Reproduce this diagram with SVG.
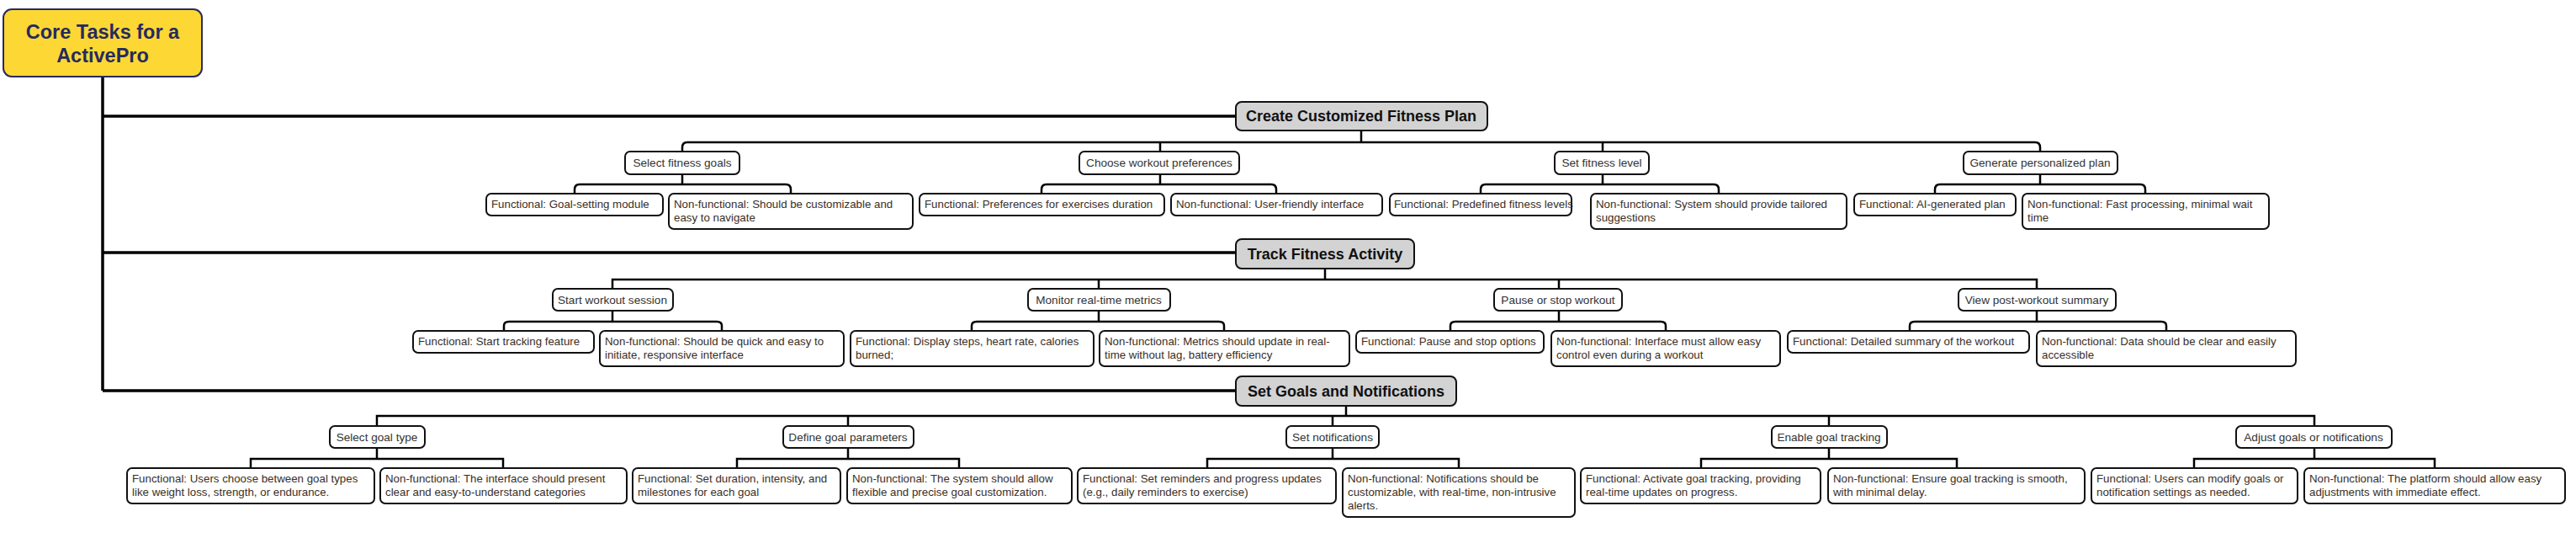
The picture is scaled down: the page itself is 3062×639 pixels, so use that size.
<svg xmlns="http://www.w3.org/2000/svg" width="3062" height="639" viewBox="0 0 3062 639">
<style>
.bg{fill:#ffffff}
.root{fill:#fdd835;stroke:#262a5f;stroke-width:2}
.roott{font-family:"Liberation Sans",Arial,sans-serif;font-weight:bold;font-size:23.5px;fill:#262a5f;text-anchor:middle}
.sec{fill:#d3d3d3;stroke:#111;stroke-width:2}
.sect{font-family:"Liberation Sans",Arial,sans-serif;font-weight:bold;font-size:18px;fill:#111;text-anchor:middle}
.box{fill:#ffffff;stroke:#111;stroke-width:2}
.t2{font-family:"Liberation Sans",Arial,sans-serif;font-size:13.6px;fill:#333;text-anchor:middle}
.t3{font-family:"Liberation Sans",Arial,sans-serif;font-size:13.3px;fill:#3a2e26}
.trunk{fill:none;stroke:#000;stroke-width:3.5}
.bus{fill:none;stroke:#000;stroke-width:2.5}
</style>
<rect class="bg" x="0" y="0" width="3062" height="639"/>

<g id="connectors">
  <path class="trunk" d="M122 91 V464 M122 138 H1469 M122 300 H1469 M122 464 H1469"/>
  <path class="bus" d="M1618 155 V169 M811 180 V175 Q811 169 817 169 H2419 Q2425 169 2425 175 V180 M1379 169 V180 M1905 169 V180"/>
  <path class="bus" d="M811 207 V219 M683 230 V225 Q683 219 689 219 H934 Q940 219 940 225 V230"/>
  <path class="bus" d="M1379 207 V219 M1238 230 V225 Q1238 219 1244 219 H1511 Q1517 219 1517 225 V230"/>
  <path class="bus" d="M1905 207 V219 M1760 230 V225 Q1760 219 1766 219 H2037 Q2043 219 2043 225 V230"/>
  <path class="bus" d="M2425 207 V219 M2300 230 V225 Q2300 219 2306 219 H2544 Q2550 219 2550 225 V230"/>
  <path class="bus" d="M1575 319 V332 M728 343 V332 H2421 V343 M1306 332 V343 M1853 332 V343"/>
  <path class="bus" d="M728 369 V382 M599 393 V387 Q599 382 605 382 H852 Q858 382 858 387 V393"/>
  <path class="bus" d="M1306 369 V382 M1155 393 V387 Q1155 382 1161 382 H1449 Q1455 382 1455 387 V393"/>
  <path class="bus" d="M1853 369 V382 M1724 393 V387 Q1724 382 1730 382 H1974 Q1980 382 1980 387 V393"/>
  <path class="bus" d="M2421 369 V382 M2270 393 V387 Q2270 382 2276 382 H2569 Q2575 382 2575 387 V393"/>
  <path class="bus" d="M1600 482 V494 M448 506 V494 H2751 V506 M1008 494 V506 M1584 494 V506 M2174 494 V506"/>
  <path class="bus" d="M448 532 V545 M298 556 V545 H598 V556"/>
  <path class="bus" d="M1008 532 V545 M876 556 V545 H1140 V556"/>
  <path class="bus" d="M1584 532 V545 M1435 556 V545 H1734 V556"/>
  <path class="bus" d="M2174 532 V545 M2022 556 V545 H2326 V556"/>
  <path class="bus" d="M2751 532 V545 M2608 556 V545 H2894 V556"/>
</g>

<g id="root">
  <rect class="root" x="4" y="11" width="236" height="80" rx="10"/>
  <text class="roott" x="122" y="46">Core Tasks for a</text>
  <text class="roott" x="122" y="74">ActivePro</text>
</g>

<g id="s1">
  <rect class="sec" x="1469" y="121" width="299" height="34" rx="7"/>
  <text class="sect" x="1618" y="144">Create Customized Fitness Plan</text>
</g>
<g id="s1c1"><rect class="box" x="743" y="180" width="136" height="27" rx="6"/><text class="t2" x="811" y="198">Select fitness goals</text></g>
<g id="s1c2"><rect class="box" x="1283" y="180" width="190" height="27" rx="6"/><text class="t2" x="1378" y="198">Choose workout preferences</text></g>
<g id="s1c3"><rect class="box" x="1848" y="180" width="112" height="27" rx="6"/><text class="t2" x="1904" y="198">Set fitness level</text></g>
<g id="s1c4"><rect class="box" x="2334" y="180" width="183" height="27" rx="6"/><text class="t2" x="2425" y="198">Generate personalized plan</text></g>

<g id="s1c1f"><rect class="box" x="578" y="230" width="210" height="26" rx="6"/><text class="t3" x="584" y="247">Functional: Goal-setting module</text></g>
<g id="s1c1n"><rect class="box" x="795" y="230" width="290" height="42" rx="6"/><text class="t3" x="801" y="247">Non-functional: Should be customizable and</text><text class="t3" x="801" y="263">easy to navigate</text></g>
<g id="s1c2f"><rect class="box" x="1093" y="230" width="291" height="26" rx="6"/><text class="t3" x="1099" y="247">Functional: Preferences for exercises duration</text></g>
<g id="s1c2n"><rect class="box" x="1392" y="230" width="251" height="26" rx="6"/><text class="t3" x="1398" y="247">Non-functional: User-friendly interface</text></g>
<g id="s1c3f"><rect class="box" x="1652" y="230" width="216" height="26" rx="6"/><text class="t3" x="1657" y="247">Functional: Predefined fitness levels</text></g>
<g id="s1c3n"><rect class="box" x="1891" y="230" width="304" height="42" rx="6"/><text class="t3" x="1897" y="247">Non-functional: System should provide tailored</text><text class="t3" x="1897" y="263">suggestions</text></g>
<g id="s1c4f"><rect class="box" x="2204" y="230" width="192" height="26" rx="6"/><text class="t3" x="2210" y="247">Functional: AI-generated plan</text></g>
<g id="s1c4n"><rect class="box" x="2404" y="230" width="293" height="42" rx="6"/><text class="t3" x="2410" y="247">Non-functional: Fast processing, minimal wait</text><text class="t3" x="2410" y="263">time</text></g>

<g id="s2">
  <rect class="sec" x="1469" y="284" width="212" height="35" rx="7"/>
  <text class="sect" x="1575" y="308">Track Fitness Activity</text>
</g>
<g id="s2c1"><rect class="box" x="657" y="343" width="143" height="26" rx="6"/><text class="t2" x="728" y="361">Start workout session</text></g>
<g id="s2c2"><rect class="box" x="1222" y="343" width="169" height="26" rx="6"/><text class="t2" x="1306" y="361">Monitor real-time metrics</text></g>
<g id="s2c3"><rect class="box" x="1776" y="343" width="152" height="26" rx="6"/><text class="t2" x="1852" y="361">Pause or stop workout</text></g>
<g id="s2c4"><rect class="box" x="2328" y="343" width="187" height="26" rx="6"/><text class="t2" x="2421" y="361">View post-workout summary</text></g>

<g id="s2c1f"><rect class="box" x="491" y="393" width="215" height="26" rx="6"/><text class="t3" x="497" y="410">Functional: Start tracking feature</text></g>
<g id="s2c1n"><rect class="box" x="713" y="393" width="290" height="42" rx="6"/><text class="t3" x="719" y="410">Non-functional: Should be quick and easy to</text><text class="t3" x="719" y="426">initiate, responsive interface</text></g>
<g id="s2c2f"><rect class="box" x="1011" y="393" width="289" height="42" rx="6"/><text class="t3" x="1017" y="410">Functional: Display steps, heart rate, calories</text><text class="t3" x="1017" y="426">burned;</text></g>
<g id="s2c2n"><rect class="box" x="1307" y="393" width="297" height="42" rx="6"/><text class="t3" x="1313" y="410">Non-functional: Metrics should update in real-</text><text class="t3" x="1313" y="426">time without lag, battery efficiency</text></g>
<g id="s2c3f"><rect class="box" x="1612" y="393" width="223" height="26" rx="6"/><text class="t3" x="1618" y="410">Functional: Pause and stop options</text></g>
<g id="s2c3n"><rect class="box" x="1844" y="393" width="272" height="42" rx="6"/><text class="t3" x="1850" y="410">Non-functional: Interface must allow easy</text><text class="t3" x="1850" y="426">control even during a workout</text></g>
<g id="s2c4f"><rect class="box" x="2125" y="393" width="287" height="26" rx="6"/><text class="t3" x="2131" y="410">Functional: Detailed summary of the workout</text></g>
<g id="s2c4n"><rect class="box" x="2421" y="393" width="308" height="42" rx="6"/><text class="t3" x="2427" y="410">Non-functional: Data should be clear and easily</text><text class="t3" x="2427" y="426">accessible</text></g>

<g id="s3">
  <rect class="sec" x="1469" y="447" width="262" height="35" rx="7"/>
  <text class="sect" x="1600" y="471">Set Goals and Notifications</text>
</g>
<g id="s3c1"><rect class="box" x="392" y="506" width="113" height="26" rx="6"/><text class="t2" x="448" y="524">Select goal type</text></g>
<g id="s3c2"><rect class="box" x="931" y="506" width="155" height="26" rx="6"/><text class="t2" x="1008" y="524">Define goal parameters</text></g>
<g id="s3c3"><rect class="box" x="1529" y="506" width="110" height="26" rx="6"/><text class="t2" x="1584" y="524">Set notifications</text></g>
<g id="s3c4"><rect class="box" x="2106" y="506" width="137" height="26" rx="6"/><text class="t2" x="2174" y="524">Enable goal tracking</text></g>
<g id="s3c5"><rect class="box" x="2658" y="506" width="185" height="26" rx="6"/><text class="t2" x="2750" y="524">Adjust goals or notifications</text></g>

<g id="s3c1f"><rect class="box" x="151" y="556" width="294" height="42" rx="6"/><text class="t3" x="157" y="573">Functional: Users choose between goal types</text><text class="t3" x="157" y="589">like weight loss, strength, or endurance.</text></g>
<g id="s3c1n"><rect class="box" x="452" y="556" width="293" height="42" rx="6"/><text class="t3" x="458" y="573">Non-functional: The interface should present</text><text class="t3" x="458" y="589">clear and easy-to-understand categories</text></g>
<g id="s3c2f"><rect class="box" x="752" y="556" width="247" height="42" rx="6"/><text class="t3" x="758" y="573">Functional: Set duration, intensity, and</text><text class="t3" x="758" y="589">milestones for each goal</text></g>
<g id="s3c2n"><rect class="box" x="1007" y="556" width="267" height="42" rx="6"/><text class="t3" x="1013" y="573">Non-functional: The system should allow</text><text class="t3" x="1013" y="589">flexible and precise goal customization.</text></g>
<g id="s3c3f"><rect class="box" x="1281" y="556" width="307" height="42" rx="6"/><text class="t3" x="1287" y="573">Functional: Set reminders and progress updates</text><text class="t3" x="1287" y="589">(e.g., daily reminders to exercise)</text></g>
<g id="s3c3n"><rect class="box" x="1596" y="556" width="276" height="58" rx="6"/><text class="t3" x="1602" y="573">Non-functional: Notifications should be</text><text class="t3" x="1602" y="589">customizable, with real-time, non-intrusive</text><text class="t3" x="1602" y="605">alerts.</text></g>
<g id="s3c4f"><rect class="box" x="1879" y="556" width="285" height="42" rx="6"/><text class="t3" x="1885" y="573">Functional: Activate goal tracking, providing</text><text class="t3" x="1885" y="589">real-time updates on progress.</text></g>
<g id="s3c4n"><rect class="box" x="2173" y="556" width="305" height="42" rx="6"/><text class="t3" x="2179" y="573">Non-functional: Ensure goal tracking is smooth,</text><text class="t3" x="2179" y="589">with minimal delay.</text></g>
<g id="s3c5f"><rect class="box" x="2486" y="556" width="245" height="42" rx="6"/><text class="t3" x="2492" y="573">Functional: Users can modify goals or</text><text class="t3" x="2492" y="589">notification settings as needed.</text></g>
<g id="s3c5n"><rect class="box" x="2739" y="556" width="310" height="42" rx="6"/><text class="t3" x="2745" y="573">Non-functional: The platform should allow easy</text><text class="t3" x="2745" y="589">adjustments with immediate effect.</text></g>
</svg>
